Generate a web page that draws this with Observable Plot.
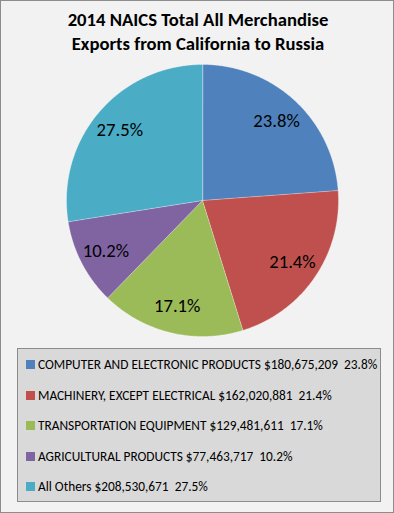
<!DOCTYPE html>
<html><head><meta charset="utf-8">
<script src="https://cdn.jsdelivr.net/npm/d3@7"></script>
<script src="https://cdn.jsdelivr.net/npm/@observablehq/plot@0.6"></script>
<style>
body{margin:0;}
#wrap{position:relative;width:394px;height:513px;background:#f2f2f2;box-shadow:inset 0 0 0 1px #8c8c8c;overflow:hidden;}
#title{position:absolute;top:8px;left:0;width:396px;text-align:center;font-family:Carlito,Lato,"Liberation Sans",sans-serif;font-weight:bold;font-size:18.67px;line-height:24px;color:#000;}
#chart{position:absolute;top:56px;left:0;}
#legend{position:absolute;left:17px;top:348px;width:362px;height:152px;background:#d9d9d9;border:1px solid #8c8c8c;font-family:Carlito,Lato,"Liberation Sans",sans-serif;font-size:13.33px;color:#000;}
.row{position:absolute;left:8px;height:14px;line-height:14px;white-space:nowrap;}
.sw{display:inline-block;width:9px;height:9px;margin-right:3px;vertical-align:0px;}
</style></head>
<body>
<div id="wrap">
<div id="title">2014 NAICS Total All Merchandise<br>Exports from California to Russia</div>
<div id="chart"></div>
<div id="legend"></div>
</div>
<script>
const categories = ["COMPUTER AND ELECTRONIC PRODUCTS","MACHINERY, EXCEPT ELECTRICAL","TRANSPORTATION EQUIPMENT","AGRICULTURAL PRODUCTS","All Others"];
const values = [180675209,162020881,129481611,77463717,208530671];
const percentLabels = ["23.8%","21.4%","17.1%","10.2%","27.5%"];
const colors = ["#4f81bd","#c0504d","#9bbb59","#8064a2","#4bacc6"];

const arcs = d3.pie().sort(null).value(d => d)(values);
const poly = [];
arcs.forEach((a, i) => {
  poly.push({name: categories[i], x: 0, y: 0});
  const n = Math.max(2, Math.ceil((a.endAngle - a.startAngle) / 0.01));
  for (let k = 0; k <= n; k++) {
    const t = a.startAngle + (a.endAngle - a.startAngle) * k / n;
    poly.push({name: categories[i], x: Math.sin(t), y: Math.cos(t)});
  }
});
const labels = arcs.map((a, i) => {
  const m = (a.startAngle + a.endAngle) / 2;
  return {text: percentLabels[i], x: 0.8 * Math.sin(m), y: 0.8 * Math.cos(m)};
});

const plot = Plot.plot({
  width: 394, height: 290,
  margin: 0,
  x: {domain: [-1, 1], range: [66, 338], axis: null},
  y: {domain: [-1, 1], range: [280, 8], axis: null},
  color: {domain: categories, range: colors},
  style: {background: "transparent"},
  marks: [
    Plot.line(poly, {x: "x", y: "y", z: "name", fill: "name", stroke: "#ffffff", strokeWidth: 0.5, strokeOpacity: 0.6, curve: "linear-closed"}),
    Plot.text(labels, {x: "x", y: "y", text: "text", fontSize: 18.67, fill: "#000", fontFamily: "Carlito, Lato, 'Liberation Sans', sans-serif"})
  ]
});
document.getElementById("chart").appendChild(plot);

const leg = document.getElementById("legend");
const fmt = d3.format(",");
categories.forEach((c, i) => {
  const r = document.createElement("div");
  r.className = "row";
  r.style.top = (9 + i * 30.5) + "px";
  r.innerHTML = `<span class="sw" style="background:${colors[i]}"></span>${c} $${fmt(values[i])}&nbsp; ${percentLabels[i]}`;
  leg.appendChild(r);
});
</script>
</body></html>
